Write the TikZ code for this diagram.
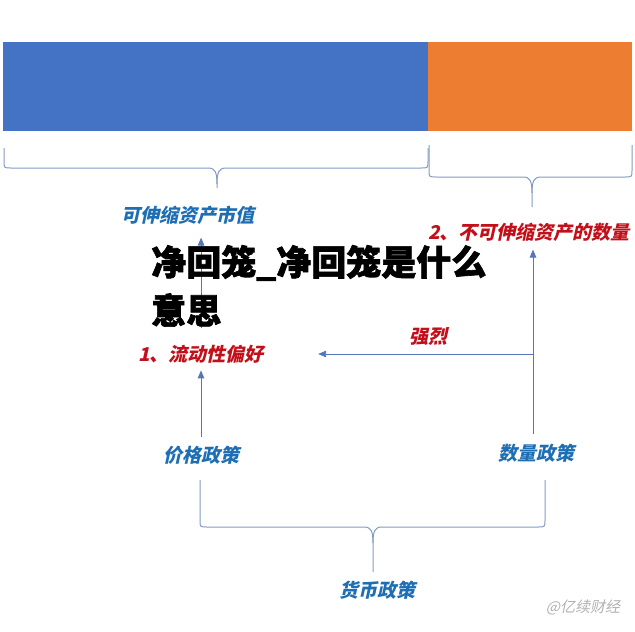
\documentclass[tikz,border=0pt]{standalone}
\usepackage{fontspec}
\newfontfamily\cjkslant[FakeSlant=0.22]{Noto Sans CJK SC}
\newfontfamily\cjkheavy[FakeBold=1.8]{Noto Sans CJK SC}
\usetikzlibrary{arrows.meta,positioning}

\definecolor{barblue}{RGB}{68,114,196}
\definecolor{barorange}{RGB}{237,125,49}
\definecolor{bracegray}{RGB}{132,156,196}
\definecolor{linkblue}{RGB}{84,118,186}
\definecolor{lblblue}{RGB}{30,110,180}
\definecolor{lblred}{RGB}{195,15,25}

% curly brace: left x, right x, top y, bar y, tip x, tip y
\newcommand{\curlybrace}[6]{%
  \draw[brace] (#1,#3) -- (#1,#4-7) .. controls (#1,#4) .. (#1+7,#4)
    -- (#5-9,#4) .. controls (#5-2,#4) and (#5,#4+4) .. (#5,#4+16) -- (#5,#6);
  \draw[brace] (#2,#3) -- (#2,#4-7) .. controls (#2,#4) .. (#2-7,#4)
    -- (#5+9,#4) .. controls (#5+2,#4) and (#5,#4+4) .. (#5,#4+16);
}

\begin{document}
\begin{tikzpicture}[
    x=1pt, y=-1pt,
    >={Triangle[length=8pt,width=6.5pt]},
    semithick
  ]
  \tikzstyle{brace}=[draw=bracegray, line width=1pt]
  \tikzstyle{link}=[draw=linkblue, line width=0.9pt, ->]
  \tikzstyle{bluelabel}=[text=lblblue, inner sep=0pt,
    font=\cjkslant\bfseries\fontsize{19}{19}\selectfont]
  \tikzstyle{redlabel}=[bluelabel, text=lblred]
  \tikzstyle{headline}=[inner sep=0pt, anchor=west,
    font=\cjkheavy\bfseries\fontsize{35}{35}\selectfont]
  \tikzstyle{wmark}=[text=black!30, inner sep=0pt,
    font=\cjkslant\fontsize{15}{15}\selectfont]

  \path[use as bounding box, fill=white] (0,0) rectangle (635,632);

  % the bar
  \fill[barblue]   (3,42)   rectangle (428,131);
  \fill[barorange] (428,42) rectangle (632,131);

  % braces
  \curlybrace{4}{428}{148}{168}{217}{188}
  \curlybrace{429}{632}{145}{177}{532}{207}
  \curlybrace{200}{545}{480}{527}{373}{572}

  \node[bluelabel]             (flex)   at (188,215) {可伸缩资产市值};
  \node[redlabel, anchor=west] (inflex) at (428,232) {2、不可伸缩资产的数量};
  \node[redlabel, anchor=west] (liq)    at (138,354) {1、流动性偏好};
  \node[redlabel]              (strong) at (428,337) {强烈};
  \node[bluelabel]             (price)  at (201,455) {价格政策};
  \node[bluelabel]             (quant)  at (536,453) {数量政策};
  \node[bluelabel]             (money)  at (377,590) {货币政策};
  \coordinate (fork) at (533,354);

  \path
  (liq.north)   edge[link, shorten <=17pt, shorten >=13pt] (liq.north |- flex.south)
  (price.north) edge[link, shorten <=9pt, shorten >=7pt]   (price.north |- liq.south)
  ([xshift=-3pt]quant.north) edge[link, shorten <=10pt, shorten >=8pt]
                              ([xshift=-3pt]quant.north |- inflex.south)
  (fork)        edge[link, shorten >=54pt]                  (liq.east)
  ;

  % title over the diagram
  \node[headline] (head)  at (151,263) {净回笼\_净回笼是什么};
  \node[headline] (head2) at (151,310) {意思};

  \node[wmark] (mark) at (583,607) {@亿续财经};
\end{tikzpicture}
\end{document}
